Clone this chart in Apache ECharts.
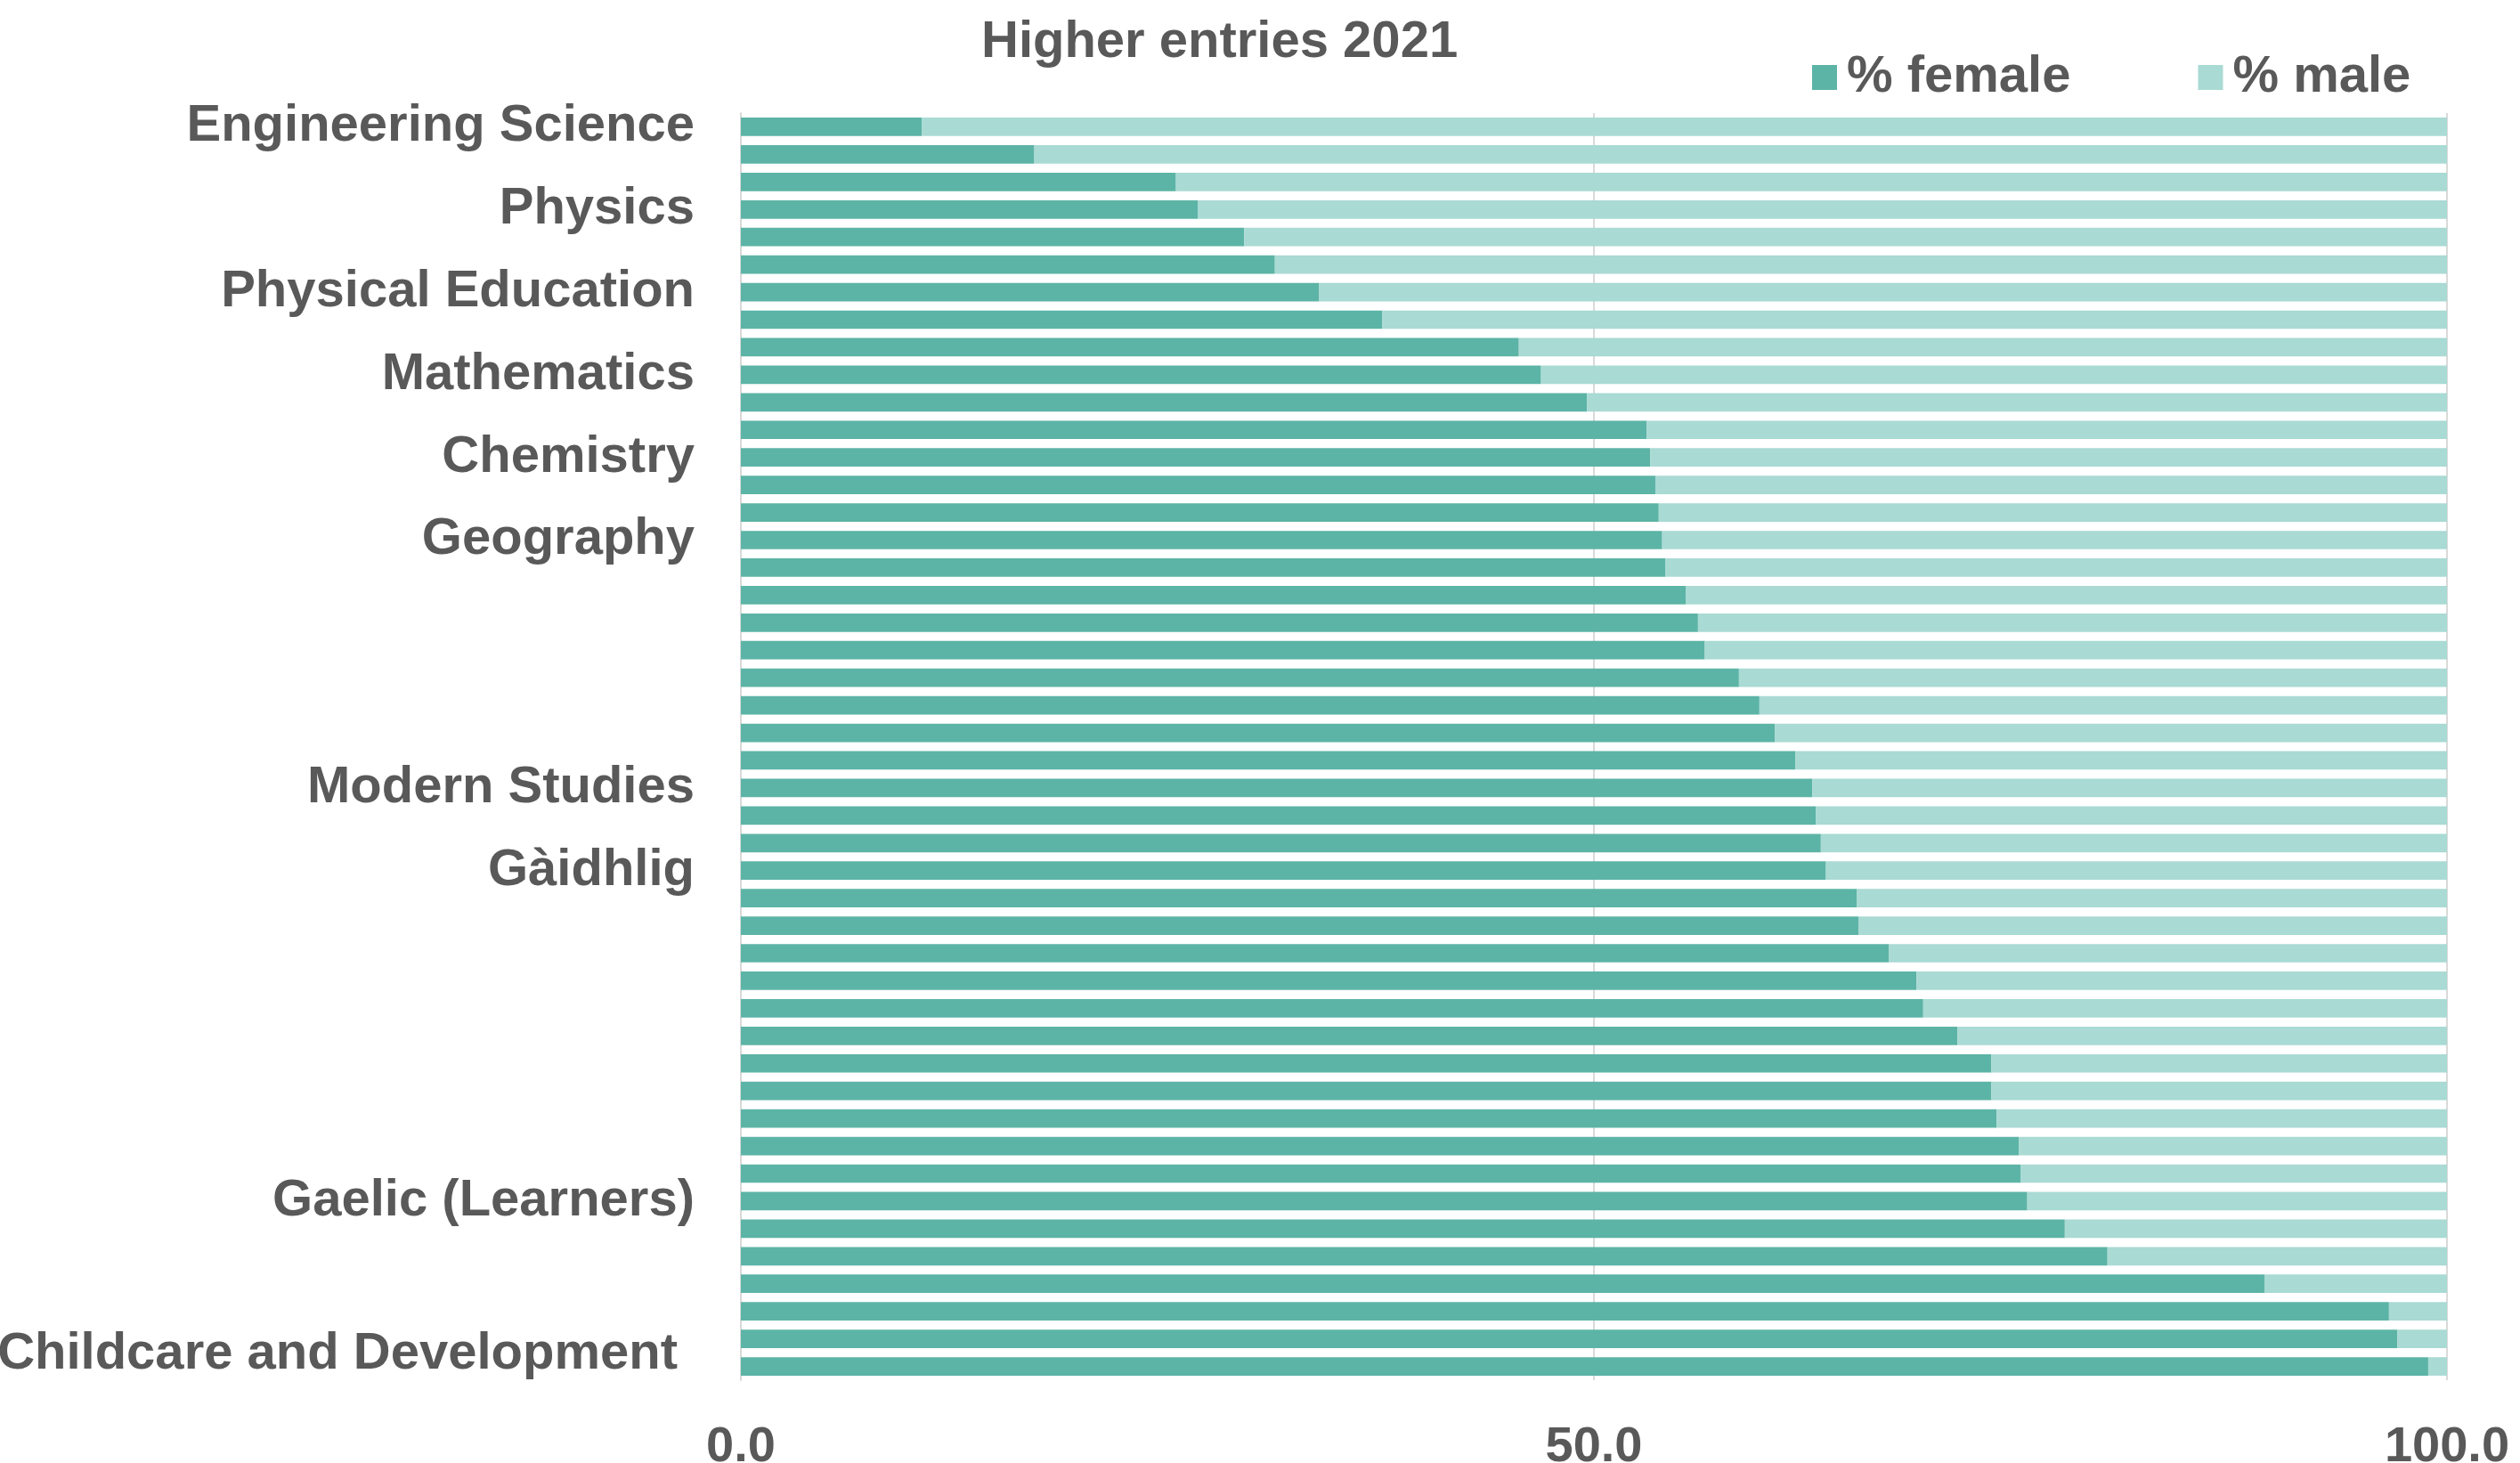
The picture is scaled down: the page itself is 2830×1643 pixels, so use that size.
<!DOCTYPE html>
<html>
<head>
<meta charset="utf-8">
<title>Higher entries 2021</title>
<script src="https://cdn.jsdelivr.net/npm/echarts@6/dist/echarts.min.js"></script>
<style>
  html, body { margin: 0; padding: 0; background: #fff; }
  #chart { width: 2830px; height: 1643px; }
</style>
</head>
<body>
<div id="chart"></div>
<script>
// only every third subject name is printed on the source chart, the rest are blank
const subjects = [
    'Engineering Science', '', '', 'Physics', '', '', 'Physical Education', '', '',
    'Mathematics', '', '', 'Chemistry', '', '', 'Geography', '', '', '', '', '', '', '', '',
    'Modern Studies', '', '', 'Gàidhlig', '', '', '', '', '', '', '', '', '', '', '',
    'Gaelic (Learners)', '', '', '', '', '', 'Childcare and Development'
]

const female = [
    10.6, 17.2, 25.5, 26.8, 29.5, 31.3, 33.9, 37.6, 45.6, 46.9, 49.6,
    53.1, 53.3, 53.6, 53.8, 54.0, 54.2, 55.4, 56.1, 56.5, 58.5, 59.7,
    60.6, 61.8, 62.8, 63.0, 63.3, 63.6, 65.4, 65.5, 67.3, 68.9, 69.3,
    71.3, 73.3, 73.3, 73.6, 74.9, 75.0, 75.4, 77.6, 80.1, 89.3, 96.6,
    97.1, 98.9
]
const male = female.map(v => +(100 - v).toFixed(1))

const xTicks = [0, 50, 100]

const grey = '#595959'
const font = 'Liberation Sans, Arial, sans-serif'

const yData = subjects.map((s, i) => {
    // last label sits a little higher and further left in the original
    if (i === subjects.length - 1) {
        return { value: s, textStyle: { padding: [0, 19, 0, 0], verticalAlign: 'bottom', lineHeight: 28 } }
    }
    return s
})

const chart = echarts.init(document.getElementById('chart'))
chart.setOption({
    animation: false,
    title: {
        text: 'Higher entries 2021',
        left: 1097,
        top: 14,
        textStyle: { fontFamily: font, fontSize: 58, fontWeight: 'bold', color: grey }
    },
    legend: {
        left: 2030,
        top: 53,
        icon: 'rect',
        itemWidth: 28,
        itemHeight: 28,
        itemGap: 143,
        textStyle: { fontFamily: font, fontSize: 58, fontWeight: 'bold', color: grey, padding: [0, 0, 0, 6] },
        data: ['% female', '% male']
    },
    grid: { left: 832, right: 82, top: 127, bottom: 93, outerBoundsMode: 'none' },
    xAxis: {
        type: 'value',
        min: xTicks[0],
        max: xTicks[xTicks.length - 1],
        interval: 50,
        axisLine: { show: false },
        axisTick: { show: false },
        splitLine: { show: true, lineStyle: { color: '#d9d9d9', width: 2 } },
        axisLabel: {
            margin: 48,
            fontFamily: font, fontSize: 56, fontWeight: 'bold', color: grey,
            formatter: v => v.toFixed(1)
        }
    },
    yAxis: {
        type: 'category',
        inverse: true,
        data: yData,
        axisLine: { show: true, lineStyle: { color: '#d9d9d9', width: 2 } },
        axisTick: { show: false },
        axisLabel: {
            interval: 0,
            margin: 52,
            fontFamily: font, fontSize: 58, fontWeight: 'bold', color: grey
        }
    },
    series: [
        {
            name: '% female',
            type: 'bar',
            stack: 'all',
            barCategoryGap: '33%',
            itemStyle: { color: '#5cb4a6' },
            data: female
        },
        {
            name: '% male',
            type: 'bar',
            stack: 'all',
            barCategoryGap: '33%',
            itemStyle: { color: '#a9dad4' },
            data: male
        }
    ]
})
</script>
</body>
</html>
